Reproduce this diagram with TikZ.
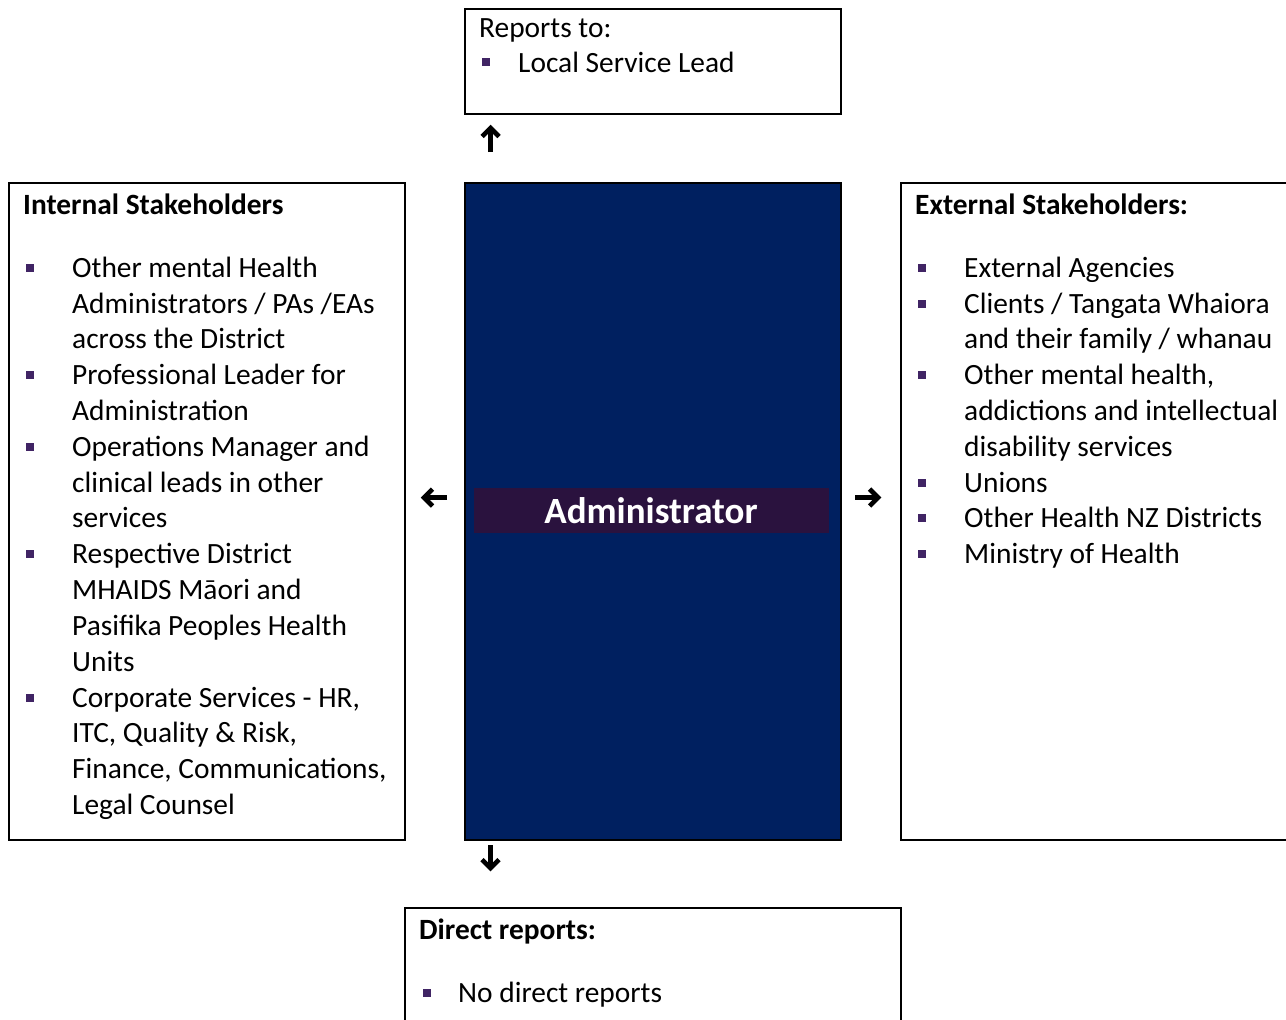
\documentclass[tikz,border=0pt]{standalone}
\usepackage{fontspec}
\setmainfont{Carlito}
\usetikzlibrary{calc}
\definecolor{navy}{RGB}{0,32,96}
\definecolor{band}{RGB}{42,18,62}
\definecolor{bulc}{RGB}{64,36,100}
\begin{document}
\begin{tikzpicture}[x=1pt,y=-1pt,
 box/.style={draw=black, line width=2pt, anchor=north west, inner sep=0},
 txt/.style={anchor=base west, inner sep=0, font=\fontsize{29.4}{35.8}\selectfont},
 ttl/.style={anchor=base west, inner sep=0, font=\fontsize{29.4}{35.8}\selectfont\bfseries},
 bul/.style={fill=bulc, minimum size=8pt, inner sep=0},
 arr/.style={line width=4.6pt, line join=miter, line cap=butt}]
\useasboundingbox (0,0) rectangle (1286,1020);
\begin{scope}
\clip (0,0) rectangle (1286,1020);
% boxes
\node[box, minimum width=376pt, minimum height=105pt] (top) at (464,8) {};
\node[box, minimum width=396pt, minimum height=657pt] (left) at (8,182) {};
\node[box, fill=navy, minimum width=376pt, minimum height=657pt] (centre) at (464,182) {};
\node[box, minimum width=400pt, minimum height=657pt] (right) at (900,182) {};
\node[box, minimum width=496pt, minimum height=130pt] (bottom) at (404,907) {};
\end{scope}
% administrator band
\node[fill=band, minimum width=355pt, minimum height=45pt, anchor=north west, inner sep=0] (band) at (474,488) {};
\node[font=\fontsize{37}{42}\selectfont\bfseries, text=white, inner sep=0] (adm) at (651,511) {Administrator};
% top box
\node[txt] (rt) at (479,37.5) {Reports to:};
\node[bul] (rtb) at (485.5,62) {};
\node[txt] (rtl) at (518,72.5) {Local Service Lead};
% left box
\node[ttl] (lt) at (23,214.5) {Internal Stakeholders};
\foreach \y in {268,375,447,554,698} \node[bul] (lb\y) at (29.5,\y) {};
\foreach \y/\t [count=\i] in {268/{Other mental Health},304/{Administrators / PAs /EAs},339/{across the District},
 375/{Professional Leader for},411/{Administration},447/{Operations Manager and},483/{clinical leads in other},
 518/{services},554/{Respective District},590/{MHAIDS Māori and},626/{Pasifika Peoples Health},662/{Units},
 698/{Corporate Services - HR,},733/{ITC, Quality \& Risk,},769/{Finance, Communications,},805/{Legal Counsel}}
 \node[txt] (l\i) at (72,\y+9.5) {\t};
% right box
\node[ttl] (rtit) at (915,214.5) {External Stakeholders:};
\foreach \y in {268,304,375,483,518,554} \node[bul] (rb\y) at (921.5,\y) {};
\foreach \y/\t [count=\i] in {268/{External Agencies},304/{Clients / Tangata Whaiora},339/{and their family / whanau},
 375/{Other mental health,},411/{addictions and intellectual},447/{disability services},483/{Unions},
 518/{Other Health NZ Districts},554/{Ministry of Health}}
 \node[txt] (r\i) at (964,\y+9.5) {\t};
% bottom box
\node[ttl] (dr) at (419,939.5) {Direct reports:};
\node[bul] (drb) at (426.5,993) {};
\node[txt] (drl) at (458,1002.5) {No direct reports};
% arrows
\coordinate (upS) at (490.5,152); \coordinate (upE) at (490.5,128);
\coordinate (dnS) at (490.5,845); \coordinate (dnE) at (490.5,868);
\coordinate (lfS) at (447,497.5); \coordinate (lfE) at (424,497.5);
\coordinate (rtS) at (855,497.5); \coordinate (rtE) at (878,497.5);
\draw[arr] (upS) -- (upE);
\draw[arr] ($(upE)+(-8.5,8.5)$) -- (upE) -- ($(upE)+(8.5,8.5)$);
\draw[arr] (dnS) -- (dnE);
\draw[arr] ($(dnE)+(-8.5,-8.5)$) -- (dnE) -- ($(dnE)+(8.5,-8.5)$);
\draw[arr] (lfS) -- (lfE);
\draw[arr] ($(lfE)+(8.5,-8.5)$) -- (lfE) -- ($(lfE)+(8.5,8.5)$);
\draw[arr] (rtS) -- (rtE);
\draw[arr] ($(rtE)+(-8.5,-8.5)$) -- (rtE) -- ($(rtE)+(-8.5,8.5)$);
\end{tikzpicture}
\end{document}
